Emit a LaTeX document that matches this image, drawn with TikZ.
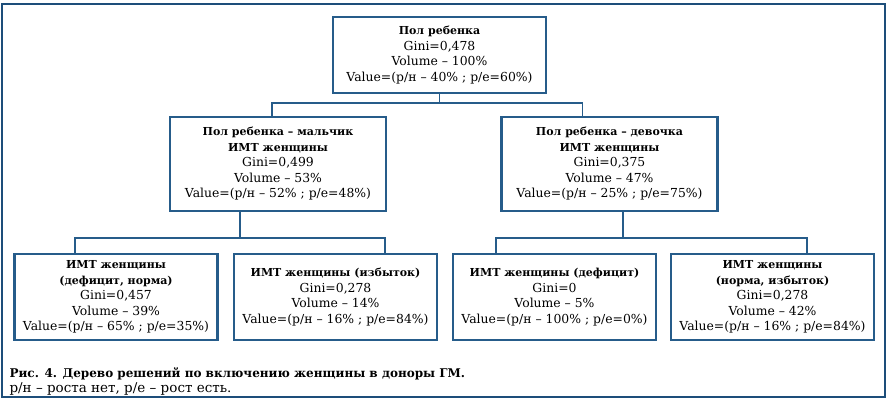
\documentclass[tikz,border=0pt]{standalone}
\usepackage{fontspec}
\setmainfont{DejaVu Serif}
\usetikzlibrary{positioning}
\definecolor{framecol}{RGB}{29,78,122}
\definecolor{boxcol}{RGB}{38,92,138}
\newcommand{\boxtitle}[1]{{\fontsize{11}{15.5}\selectfont\bfseries #1}}

\begin{document}
\begin{tikzpicture}[x=1pt, y=-1pt,
    box/.style={rectangle, draw=boxcol, line width=2.6pt, inner sep=0pt, align=center, font=\fontsize{12.4}{15.5}\selectfont},
    top/.style={box, minimum width=213pt, minimum height=76pt},
    mid/.style={box, minimum width=216pt, minimum height=94pt},
    leaf/.style={box, minimum width=203pt, minimum height=86pt},
    link/.style={draw=boxcol, line width=1.8pt}
]

\useasboundingbox (0,0) rectangle (887,400);
\draw[framecol, line width=2.6pt] (2,4) rectangle (885,397);

% Root
\node[top] (root) at (439.5,55) {\boxtitle{Пол ребенка}\\Gini=0,478\\Volume – 100\%\\Value=(р/н – 40\% ; р/е=60\%)};

% Second level
\node[mid] (boy) at (278,164) {\boxtitle{Пол ребенка – мальчик}\\\boxtitle{ИМТ женщины}\\Gini=0,499\\Volume – 53\%\\Value=(р/н – 52\% ; р/е=48\%)};
\node[mid] (girl) at (609.5,164) {\boxtitle{Пол ребенка – девочка}\\\boxtitle{ИМТ женщины}\\Gini=0,375\\Volume – 47\%\\Value=(р/н – 25\% ; р/е=75\%)};

% Leaves
\node[leaf] (b1) at (116,297) {\boxtitle{ИМТ женщины}\\\boxtitle{(дефицит, норма)}\\Gini=0,457\\Volume – 39\%\\Value=(р/н – 65\% ; р/е=35\%)};
\node[leaf] (b2) at (335.5,297) {\boxtitle{ИМТ женщины (избыток)}\\Gini=0,278\\Volume – 14\%\\Value=(р/н – 16\% ; р/е=84\%)};
\node[leaf] (g1) at (554.5,297) {\boxtitle{ИМТ женщины (дефицит)}\\Gini=0\\Volume – 5\%\\Value=(р/н – 100\% ; р/е=0\%)};
\node[leaf] (g2) at (772.5,297) {\boxtitle{ИМТ женщины}\\\boxtitle{(норма, избыток)}\\Gini=0,278\\Volume – 42\%\\Value=(р/н – 16\% ; р/е=84\%)};

% Connectors
\draw[link] (root.south) -- ++(0,9) -| ([xshift=-6pt]boy.north);
\draw[link] (root.south) -- ++(0,9) -| ([xshift=-27pt]girl.north);
\foreach \from/\fx/\to/\tx in {boy/-38/b1/-41, boy/-38/b2/49.5, girl/13.5/g1/-58.5, girl/13.5/g2/34.5} {
    \draw[link] ([xshift=\fx pt]\from.south) -- ++(0,26) -| ([xshift=\tx pt]\to.north);
}

% Caption
\node[anchor=west, align=left, font=\fontsize{13.5}{15}\selectfont] (caption) at (6,381) {{\fontsize{12}{15}\selectfont\bfseries Рис. 4. Дерево решений по включению женщины в доноры ГМ.}\\р/н – роста нет, р/е – рост есть.};

\end{tikzpicture}
\end{document}
